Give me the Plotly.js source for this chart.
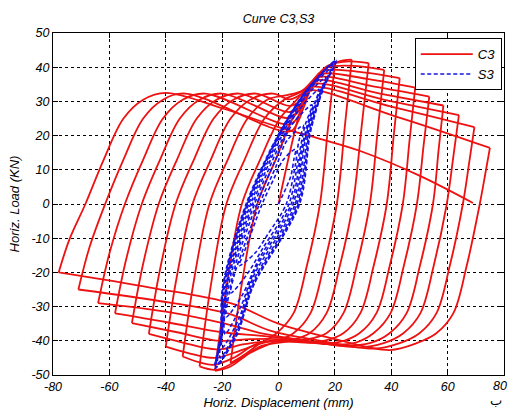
<!DOCTYPE html>
<html>
<head>
<meta charset="utf-8">
<script src="https://cdn.plot.ly/plotly-3.0.1.min.js"></script>
<style>
  html, body { margin: 0; padding: 0; background: #fff; }
  #chart { width: 509px; height: 410px; }
</style>
</head>
<body>
<div id="chart"></div>
<script>
// ---- Specimen C3: half-cycles as [displacement (mm), load (kN)] ----
const C3_01_up   = [[0,0],[4,15],[8,28],[12,35],[16,39],[20,41]];
const C3_01_down = [[20,41],[17.6,22.6],[14.7,0],[10,-18.3],[5.3,-32],[-0.7,-37.8],[-7,-41],[-12,-44],[-17,-46.5]];
const C3_02_up   = [[-17,-46.5],[-13,-23.3],[-7.5,0],[-1,13],[5,25],[9.5,31],[13.5,36],[17,39.8],[21,41.6],[26,42.2]];
const C3_02_down = [[26,42.2],[23.6,23.2],[20.7,0],[16,-18.3],[11.3,-32],[5.3,-37.8],[-2,-40.5],[-10,-43.5],[-17,-47.5],[-22.5,-48.8]];
const C3_03_up   = [[-22.5,-48.8],[-18.5,-24.4],[-13,0],[-6.5,13],[0.5,25],[6.5,30.5],[11,34.8],[14.5,38.3],[18,40.6],[25,41.7],[32,41.2]];
const C3_03_down = [[32,41.2],[29.5,22.7],[26.4,0],[21.7,-18.3],[17,-32],[11,-37.8],[4,-40],[-6,-41.5],[-14,-45.5],[-22,-48.5],[-28,-47.5]];
const C3_04_up   = [[-28,-47.5],[-24,-23.8],[-18.5,0],[-12,13],[-5,25],[2,30.5],[8,32.8],[12,35.8],[15,38.5],[17.5,40],[27,40.4],[37.5,39.2]];
const C3_04_down = [[37.5,39.2],[35.2,21.6],[32.4,0],[27.7,-18.3],[23,-32],[17,-37.8],[10,-39.6],[0.5,-39.8],[-8,-41],[-16,-45],[-23,-47],[-28,-46.3],[-34,-44.6]];
const C3_05_up   = [[-34,-44.6],[-30,-22.3],[-24.5,0],[-18,13],[-11,25],[-4,30.5],[3,31.8],[8.5,33.2],[12,36],[16,39],[30,38.5],[43,36.8]];
const C3_05_down = [[43,36.8],[40.9,20.2],[38.4,0],[33.7,-18.3],[29,-32],[23,-37.8],[16,-40],[6.5,-40.2],[-5,-40.5],[-14,-43],[-22.5,-45],[-31,-43.8],[-40,-41.7]];
const C3_06_up   = [[-40,-41.7],[-36,-20.9],[-30.5,0],[-24,13],[-17,25],[-10,30.5],[-2,32.3],[4,30.6],[8.5,32.4],[12,35.4],[15,38],[32,36.5],[48.5,34]];
const C3_06_down = [[48.5,34],[46.5,18.7],[44.1,0],[39.4,-18.3],[34.7,-32],[28.7,-37.8],[21.7,-40.3],[12,-40.6],[-2,-40],[-12,-41],[-22,-42.5],[-34,-40.5],[-46,-38]];
const C3_07_up   = [[-46,-38],[-42,-19],[-36.5,0],[-30,13],[-23,25],[-16,30.5],[-8,32.3],[4,28.7],[8.5,30.6],[11.5,34],[14,37],[34,34.3],[53.5,31.4]];
const C3_07_down = [[53.5,31.4],[51.5,17.3],[49.1,0],[44.4,-18.3],[39.7,-32],[33.7,-37.8],[26.7,-40.7],[17.5,-41],[0,-39.5],[-10,-39.5],[-21,-40],[-36,-37.5],[-52,-34.8]];
const C3_08_up   = [[-52,-34.8],[-48,-17.4],[-42.5,0],[-36,13],[-29,25],[-22,30.5],[-14,32.3],[4,26.9],[8,29.2],[11,33],[13,36],[36,32.3],[58.5,28.8]];
const C3_08_down = [[58.5,28.8],[56.8,15.8],[54.8,0],[50.1,-18.3],[45.4,-32],[39.4,-37.8],[32.4,-40.7],[23,-41.4],[5,-39.5],[-7,-38.5],[-20,-37.5],[-40,-34.5],[-58,-32]];
const C3_09_up   = [[-58,-32],[-54,-16],[-48.5,0],[-42,13],[-35,25],[-28,30.5],[-20,32.3],[4,25.1],[7.5,27.6],[10.5,31.8],[12,35],[38,30.4],[64,26]];
const C3_09_down = [[64,26],[62.1,14.3],[59.7,0],[55,-18.3],[50.3,-32],[44.3,-37.8],[37.3,-40.7],[28.5,-41.9],[10,-40],[-5,-38],[-19,-35],[-40,-31.5],[-64,-29]];
const C3_10_up   = [[-64,-29],[-60,-14.5],[-54.5,0],[-48,13],[-41,25],[-34,30.5],[-26,32.3],[4,23.3],[7.5,26.2],[10,30.5],[11,34],[40,28.5],[69.5,22.5]];
const C3_10_down = [[69.5,22.5],[67.7,12.4],[65.4,0],[60.7,-18.3],[56,-32],[50,-37.8],[43,-40.7],[34,-42.3],[15,-40],[-3,-37],[-18,-32],[-45,-28],[-71,-25]];
const C3_11_up   = [[-71,-25],[-67,-12.5],[-61.5,0],[-55,13],[-48,25],[-41,30.5],[-33,32.3],[4,21.2],[7,24.2],[9,28.8],[10,33],[42,25.5],[75,16.4]];
const C3_11_down = [[75,16.4],[73.4,9],[71.4,0],[66.7,-18.3],[62,-32],[56,-37.8],[49,-40.7],[39.5,-42.7],[20,-39.5],[0,-35],[-17,-29],[-45,-24.5],[-78,-20]];
const C3_12_up   = [[-78,-20],[-74,-10],[-68.5,0],[-62,13],[-55,25],[-48,30.5],[-40,32.5],[-20,28],[0,22.5],[15,19],[29,15.5],[50,8.3],[69,0.3]];

const C3_branches = [
  C3_01_up, C3_01_down, C3_02_up, C3_02_down, C3_03_up, C3_03_down,
  C3_04_up, C3_04_down, C3_05_up, C3_05_down, C3_06_up, C3_06_down,
  C3_07_up, C3_07_down, C3_08_up, C3_08_down, C3_09_up, C3_09_down,
  C3_10_up, C3_10_down, C3_11_up, C3_11_down, C3_12_up
];

// ---- Specimen S3: cycles as [displacement (mm), load (kN)] ----
const S3_01 = [[0,0],[4.3,8],[5.4,12.8],[6.0,16],[1.55,12.8],[-1.3,8],[-5.8,0],[-9.9,-9],[-12.3,-14.4],[-13.9,-18]];
const S3_02 = [[-8.4,-14.4],[-3.9,-9],[2.75,0],[6.0,11.5],[7.2,18.4],[8.8,23],[2.9,18.4],[-0.6,11.5],[-6.75,0],[-12.5,-13],[-15.7,-20.8],[-16.9,-26]];
const S3_03 = [[-11.4,-20.8],[-5.6,-13],[3.7,0],[7.3,14.5],[9.5,23.2],[11.9,29],[4.8,23.2],[-0.2,14.5],[-7.7,0],[-14.8,-16.5],[-17.6,-26.4],[-18.5,-33]];
const S3_04 = [[-12.7,-26.4],[-7.2,-16.5],[4.5,0],[8.3,16.75],[11.5,26.8],[14.4,33.5],[6.6,26.8],[0.1,16.75],[-8.5,0],[-16.4,-19],[-18.9,-30.4],[-19.0,-38]];
const S3_05 = [[-13.6,-30.4],[-8.2,-19],[5.2,0],[9.1,18.5],[13,29.6],[16.7,37],[8.0,29.6],[0.3,18.5],[-9.2,0],[-17.5,-21],[-19.4,-33.6],[-20,-42]];
const S3_06 = [[-14.1,-33.6],[-8.8,-21],[5.9,0],[9.7,19.75],[14.3,31.6],[18.6,39.5],[9.1,31.6],[0.4,19.75],[-9.9,0],[-18.3,-22.5],[-19.8,-36],[-20.7,-45]];
const S3_07 = [[-14.45,-36],[-8.9,-22.5],[6.55,0],[10.5,20.5],[15.1,32.8],[19.2,41],[9.8,32.8],[0.5,20.5],[-10.55,0],[-19,-23.25],[-20.1,-37.2],[-21.5,-46.5]];
const S3_08 = [[-14.6,-37.2],[-8.9,-23.25],[7.0,0],[11,21],[15.7,33.6],[20.4,42],[10.25,33.6],[0.6,21],[-11,0],[-19.4,-23.75],[-20.4,-38],[-22.3,-47.5]];
const S3_09 = [[-14.7,-38],[-8.8,-23.75],[7.5,0],[11.35,21],[15.9,33.6],[20.5,42],[10.2,33.6],[0.4,21],[-11.5,0],[-19.8,-24],[-20.6,-38.4],[-22.5,-48]];
const S3_10 = [[-14.8,-38.4],[-9,-24],[7.2,0],[11.1,20.75],[15.6,33.2],[20.2,41.5],[10,33.2],[0.4,20.75],[-11.2,0],[-19.6,-23.9],[-20.4,-38.2],[-22.4,-47.8]];

const S3_cycles = [S3_01, S3_02, S3_03, S3_04, S3_05, S3_06, S3_07, S3_08, S3_09, S3_10];

// ---- Axis ticks (the label of the last x tick sits at the page edge, drawn separately) ----
const xTickVals = [-80, -60, -40, -20, 0, 20, 40, 60, 80];
const xTickText = ['-80', '-60', '-40', '-20', '0', '20', '40', '60', ''];
const xEdgeTick = 80;
const xEdgeText = '80';
const yTickVals = [-50, -40, -30, -20, -10, 0, 10, 20, 30, 40, 50];
const yTickText = ['-50', '-40', '-30', '-20', '-10', '0', '10', '20', '30', '40', '50'];

// Branches are split with null so each reversal keeps a sharp corner
function branchesToXY(branches) {
  const x = [], y = [];
  branches.forEach((b, i) => {
    if (i > 0) { x.push(null); y.push(null); }
    b.forEach(p => { x.push(p[0]); y.push(p[1]); });
  });
  return { x, y };
}
// S3 cycles form one continuous path
function cyclesToXY(cycles) {
  const x = [], y = [];
  cycles.forEach(c => c.forEach(p => { x.push(p[0]); y.push(p[1]); }));
  return { x, y };
}

const c3 = branchesToXY(C3_branches);
const s3 = cyclesToXY(S3_cycles);

const FONT = 'Liberation Sans, Arial, Helvetica, sans-serif';

const traces = [
  {
    type: 'scatter', mode: 'lines', name: 'C3',
    x: c3.x, y: c3.y, connectgaps: false,
    line: { color: '#ee1111', width: 1.8, shape: 'spline', smoothing: 1 },
    hoverinfo: 'skip'
  },
  {
    type: 'scatter', mode: 'lines', name: 'S3',
    x: s3.x, y: s3.y,
    line: { color: '#1414e6', width: 1.6, dash: '4px,2.5px', shape: 'spline', smoothing: 0.9 },
    hoverinfo: 'skip'
  }
];

const axisBase = {
  showline: true, linecolor: '#000', linewidth: 1, mirror: 'allticks',
  ticks: 'inside', ticklen: 5, tickcolor: '#000', tickwidth: 1,
  showgrid: true, gridcolor: '#000', gridwidth: 1, griddash: '3px,3px',
  zeroline: false, tickmode: 'array', automargin: false,
  tickfont: { family: FONT, size: 12.5, color: '#000', style: 'italic' }
};

const layout = {
  width: 509, height: 410,
  margin: { l: 53, r: 5, t: 33, b: 35, autoexpand: false },
  paper_bgcolor: '#fff', plot_bgcolor: '#fff',
  showlegend: true,
  title: {
    text: 'Curve C3,S3',
    font: { family: FONT, size: 12.5, color: '#000', style: 'italic' },
    x: 0.5, xref: 'paper', y: 1 - 19 / 410, yref: 'container', yanchor: 'middle'
  },
  xaxis: Object.assign({}, axisBase, {
    range: [-80, 80], tickvals: xTickVals, ticktext: xTickText,
    title: { text: 'Horiz. Displacement (mm)', standoff: 4,
             font: { family: FONT, size: 13, color: '#000', style: 'italic' } }
  }),
  yaxis: Object.assign({}, axisBase, {
    range: [-50, 50], tickvals: yTickVals, ticktext: yTickText,
    title: { text: 'Horiz. Load (KN)', standoff: 8,
             font: { family: FONT, size: 13, color: '#000', style: 'italic' } }
  }),
  legend: {
    x: 0.995, xanchor: 'right', y: 0.985, yanchor: 'top',
    bgcolor: '#fff', bordercolor: '#000', borderwidth: 1,
    font: { family: FONT, size: 13, color: '#000', style: 'italic' },
    itemwidth: 52, tracegroupgap: 0
  },
  annotations: [
    { text: xEdgeText, xref: 'x', yref: 'paper', x: xEdgeTick, y: 0,
      xanchor: 'right', yanchor: 'top', xshift: 5, yshift: -2,
      showarrow: false, font: { family: FONT, size: 12.5, color: '#000', style: 'italic' } },
    { text: 'ب', xref: 'paper', yref: 'paper', x: 0.982, y: -0.076,
      xanchor: 'center', yanchor: 'middle',
      showarrow: false, font: { family: 'DejaVu Sans, Noto Sans', size: 13, color: '#000' } }
  ]
};

Plotly.newPlot('chart', traces, layout, { staticPlot: true, displayModeBar: false });
</script>
</body>
</html>
